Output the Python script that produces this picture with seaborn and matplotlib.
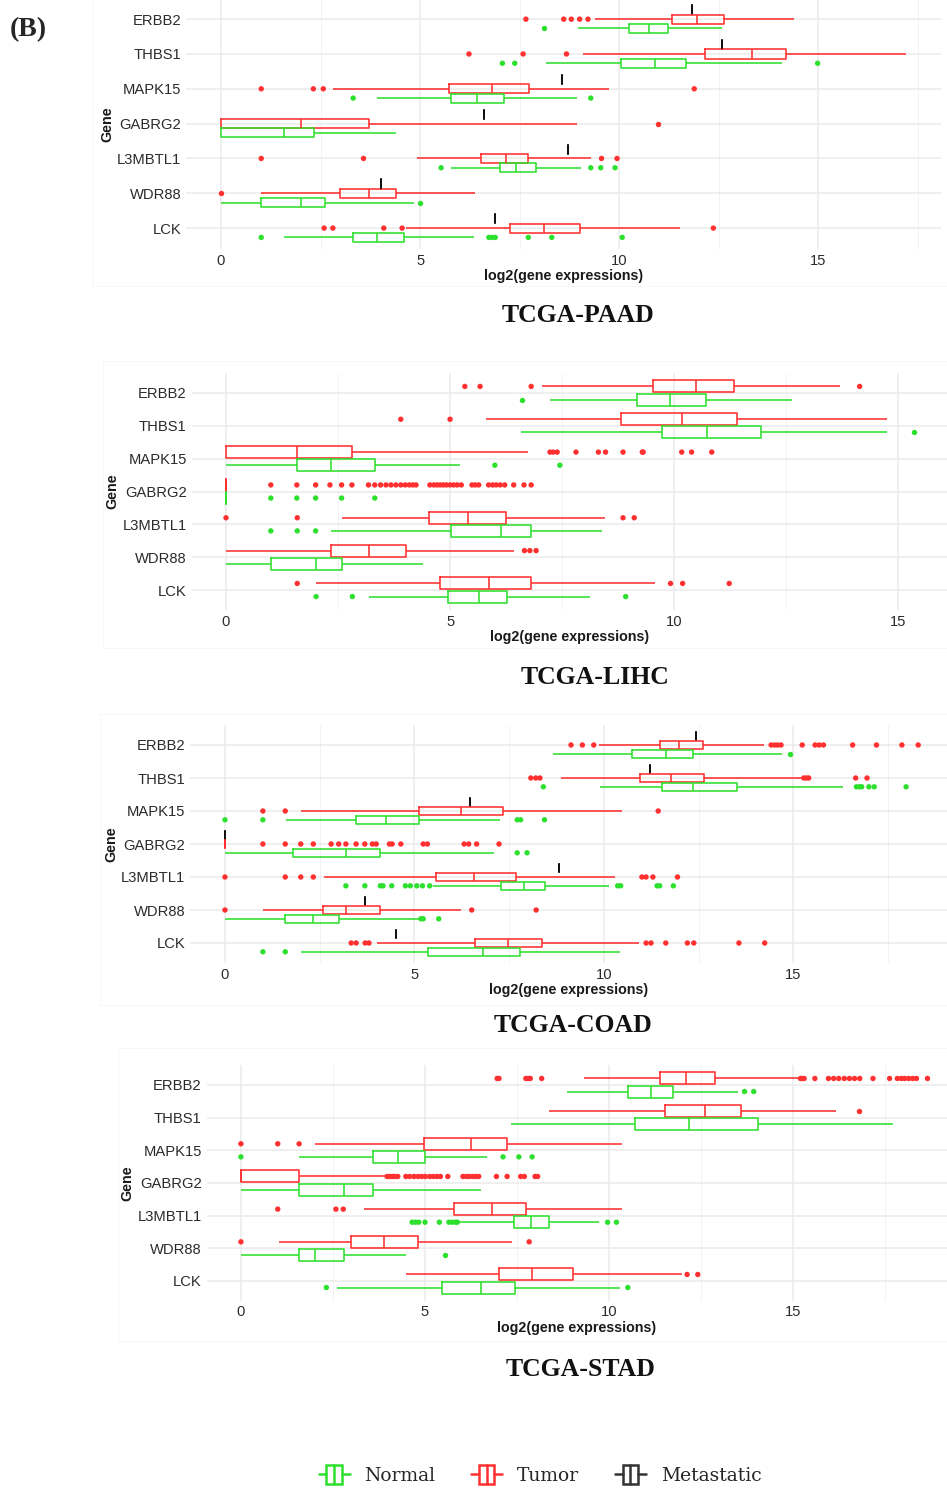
import numpy as np
import pandas as pd
import matplotlib
matplotlib.use("Agg")
import matplotlib.pyplot as plt
import seaborn as sns
from matplotlib.legend_handler import HandlerBase
from matplotlib.lines import Line2D
from matplotlib.patches import Rectangle
from matplotlib.ticker import MultipleLocator

# ---------------------------------------------------------------- data
GENES = ["ERBB2", "THBS1", "MAPK15", "GABRG2", "L3MBTL1", "WDR88", "LCK"]
GROUPS = ["Normal", "Tumor", "Metastatic"]
X_TICKS = [0, 5, 10, 15]
X_LABEL = "log2(gene expressions)"
Y_LABEL = "Gene"
PANEL_TITLES = ["TCGA-PAAD", "TCGA-LIHC", "TCGA-COAD", "TCGA-STAD"]

# per gene: [lower whisker, Q1, median, Q3, upper whisker]
PAAD_NORMAL = [[8.98, 10.26, 10.75, 11.23, 12.59], [8.17, 10.05, 10.91, 11.69, 14.09],
               [3.91, 5.79, 6.42, 7.11, 8.94], [0.0, 0.0, 1.59, 2.33, 4.39],
               [5.79, 7.00, 7.41, 7.92, 9.05], [0.0, 1.01, 2.02, 2.60, 4.85],
               [1.59, 3.32, 3.91, 4.60, 6.35]]
PAAD_TUMOR = [[9.39, 11.32, 11.95, 12.63, 14.39], [9.09, 12.15, 13.35, 14.20, 17.22],
              [2.82, 5.72, 6.81, 7.74, 9.74], [0.0, 0.0, 2.02, 3.71, 8.95],
              [4.92, 6.54, 7.17, 7.72, 9.29], [1.01, 3.00, 3.71, 4.39, 6.38],
              [4.65, 7.25, 8.12, 9.01, 11.54]]
PAAD_METASTATIC = [11.84, 12.59, 8.57, 6.61, 8.71, 4.01, 6.88]
PAAD_NORMAL_OUT = [[8.11], [7.07, 7.38, 14.99], [3.32, 9.29], [], [5.53, 9.29, 9.54, 9.90],
                   [4.99], [1.01, 6.73, 6.81, 6.89, 7.72, 8.31, 10.08]]
PAAD_TUMOR_OUT = [[7.66, 8.61, 8.80, 9.01, 9.22], [6.23, 7.59, 8.68], [1.01, 2.32, 2.57, 11.89],
                  [10.98], [1.01, 3.58, 9.56, 9.95], [0.0], [2.59, 2.81, 4.09, 4.55, 12.37]]

LIHC_NORMAL = [[7.23, 9.17, 9.90, 10.71, 12.64], [6.58, 9.72, 10.73, 11.93, 14.75],
               [0.0, 1.59, 2.34, 3.33, 5.23], [0.0, 0.0, 0.0, 0.0, 0.0],
               [2.35, 5.01, 6.14, 6.81, 8.40], [0.0, 1.01, 2.01, 2.59, 4.39],
               [3.19, 4.95, 5.64, 6.27, 8.13]]
LIHC_TUMOR = [[7.06, 9.53, 10.48, 11.33, 13.71], [5.80, 8.82, 10.18, 11.40, 14.75],
              [0.0, 0.0, 1.59, 2.82, 6.75], [0.0, 0.0, 0.0, 0.0, 0.0],
              [2.59, 4.52, 5.40, 6.24, 8.45], [0.0, 2.34, 3.18, 4.01, 6.42],
              [2.01, 4.78, 5.86, 6.81, 9.57]]
LIHC_NORMAL_OUT = [[6.61], [15.35], [6.0, 7.45], [1.0, 1.58, 2.0, 2.58, 3.32],
                   [1.0, 1.59, 2.0], [], [2.01, 2.82, 8.92]]
LIHC_TUMOR_OUT = [[5.33, 5.67, 6.81, 14.14], [3.90, 5.0],
                  [7.23, 7.30, 7.39, 7.81, 8.31, 8.47, 8.86, 9.29, 9.31, 10.17, 10.39, 10.84],
                  [1.0, 1.58, 2.0, 2.32, 2.58, 2.81, 3.18, 3.32, 3.45, 3.57, 3.68, 3.79, 3.90,
                   4.0, 4.09, 4.17, 4.24, 4.55, 4.64, 4.71, 4.78, 4.85, 4.92, 5.0, 5.08, 5.16,
                   5.25, 5.49, 5.56, 5.64, 5.86, 5.95, 6.03, 6.12, 6.22, 6.42, 6.65, 6.81],
                  [0.0, 1.59, 8.86, 9.11], [6.66, 6.78, 6.92], [1.59, 9.92, 10.19, 11.23]]

COAD_NORMAL = [[8.66, 10.73, 11.64, 12.34, 14.70], [9.90, 11.53, 12.34, 13.51, 16.31],
               [1.60, 3.46, 4.24, 5.11, 7.26], [0.0, 1.80, 3.19, 4.09, 7.09],
               [5.50, 7.27, 7.90, 8.44, 10.14], [0.0, 1.59, 2.33, 3.00, 5.11],
               [2.00, 5.36, 6.81, 7.79, 10.41]]
COAD_TUMOR = [[9.86, 11.49, 11.97, 12.61, 14.21], [8.87, 10.94, 11.76, 12.64, 15.21],
              [2.00, 5.11, 6.23, 7.33, 10.47], [0.0, 0.0, 0.0, 0.0, 0.0],
              [2.61, 5.56, 6.56, 7.69, 10.30], [1.00, 2.59, 3.19, 4.09, 6.23],
              [4.01, 6.60, 7.46, 8.37, 10.93]]
COAD_METASTATIC = [12.44, 11.21, 6.46, 0.0, 8.81, 3.69, 4.51]
COAD_NORMAL_OUT = [[14.90], [8.40, 16.66, 16.74, 16.80, 16.99, 17.13, 17.97],
                   [0.0, 1.0, 7.71, 7.80, 8.43], [7.71, 7.97],
                   [3.19, 3.69, 4.10, 4.17, 4.40, 4.76, 4.89, 5.06, 5.21, 5.40,
                    10.36, 10.44, 11.40, 11.47, 11.83],
                   [5.17, 5.23, 5.64], [1.0, 1.59]]
COAD_TUMOR_OUT = [[9.13, 9.43, 9.73, 14.41, 14.50, 14.58, 14.67, 15.23, 15.57, 15.68, 15.79,
                   16.56, 17.19, 17.86, 18.29],
                  [8.07, 8.20, 8.31, 15.27, 15.34, 15.40, 16.64, 16.94],
                  [1.0, 1.59, 11.43],
                  [1.0, 1.59, 2.0, 2.33, 2.80, 3.0, 3.19, 3.46, 3.69, 3.89, 3.99, 4.34, 4.41,
                   4.64, 5.23, 5.34, 6.31, 6.43, 6.64, 7.23],
                  [0.0, 1.59, 2.0, 2.33, 11.0, 11.11, 11.29, 11.94],
                  [0.0, 6.51, 8.21],
                  [3.33, 3.46, 3.70, 3.80, 11.11, 11.24, 11.63, 12.20, 12.37, 13.56, 14.24]]

STAD_NORMAL = [[8.86, 10.51, 11.14, 11.74, 13.51], [7.33, 10.70, 12.16, 14.04, 17.71],
               [1.59, 3.59, 4.26, 4.99, 6.68], [0.0, 1.58, 2.80, 3.59, 6.51],
               [5.93, 7.41, 7.88, 8.36, 9.72], [0.0, 1.58, 2.01, 2.81, 4.49],
               [2.61, 5.46, 6.52, 7.45, 10.30]]
STAD_TUMOR = [[9.33, 11.39, 12.09, 12.88, 15.13], [8.38, 11.51, 12.61, 13.59, 16.16],
              [2.01, 4.96, 6.26, 7.23, 10.35], [0.0, 0.0, 0.0, 1.59, 3.91],
              [3.33, 5.80, 6.83, 7.75, 10.35], [1.03, 3.00, 3.88, 4.81, 7.36],
              [4.48, 7.00, 7.91, 9.01, 11.97]]
STAD_NORMAL_OUT = [[13.68, 13.93], [], [0.0, 7.12, 7.55, 7.91], [],
                   [4.65, 4.74, 4.83, 5.0, 5.39, 5.65, 5.74, 5.83, 5.88, 9.96, 10.2],
                   [5.54], [2.32, 10.51]]
STAD_TUMOR_OUT = [[6.96, 7.01, 7.74, 7.80, 7.86, 8.17, 15.2, 15.25, 15.3, 15.59, 15.96, 16.1,
                   16.24, 16.39, 16.53, 16.67, 16.81, 17.17, 17.62, 17.83, 17.94, 18.03, 18.14,
                   18.25, 18.35, 18.65],
                  [16.8], [0.0, 1.0, 1.58],
                  [3.97, 4.04, 4.11, 4.18, 4.26, 4.48, 4.58, 4.70, 4.81, 4.91, 5.01, 5.13, 5.23,
                   5.33, 5.42, 5.62, 6.03, 6.12, 6.20, 6.29, 6.38, 6.46, 6.94, 7.23, 7.60, 7.70,
                   7.99, 8.06],
                  [1.0, 2.58, 2.78], [0.0, 7.83], [12.12, 12.41]]

# ---------------------------------------------------------------- style
PALETTE = {"Normal": "#2ee02e", "Tumor": "#ff3030", "Metastatic": "#111111"}
LEGEND_COLORS = {"Normal": "#2ee02e", "Tumor": "#ff3030", "Metastatic": "#333333"}
W, H = 947, 1488

sns.set_theme(style="white")
plt.rcParams["font.family"] = ["Liberation Sans", "DejaVu Sans"]


def box_frame(stats_by_group):
    recs = []
    for grp, per_gene in stats_by_group.items():
        for gene, vals in zip(GENES, per_gene):
            for v in np.atleast_1d(vals):
                recs.append({"gene": gene, "group": grp, "value": float(v)})
    return pd.DataFrame(recs)


def out_frame(out_by_group):
    recs = []
    for grp, per_gene in out_by_group.items():
        for gene, vals in zip(GENES, per_gene):
            for v in vals:
                recs.append({"gene": gene, "group": grp, "value": float(v)})
    return pd.DataFrame(recs)


PANELS = [
    dict(title=PANEL_TITLES[0],
         stats={"Metastatic": PAAD_METASTATIC, "Tumor": PAAD_TUMOR, "Normal": PAAD_NORMAL},
         outs={"Tumor": PAAD_TUMOR_OUT, "Normal": PAAD_NORMAL_OUT},
         hue_order=["Metastatic", "Tumor", "Normal"], gap=0.02,
         box=(186, 0, 941, 249), xlim=(-0.88, 18.09), ylim=(6.6, -0.55),
         title_xy=(578, 316), frame=(92, -5, 960, 286)),
    dict(title=PANEL_TITLES[1],
         stats={"Tumor": LIHC_TUMOR, "Normal": LIHC_NORMAL},
         outs={"Tumor": LIHC_TUMOR_OUT, "Normal": LIHC_NORMAL_OUT},
         hue_order=["Tumor", "Normal"], gap=0.08,
         box=(191.5, 373.3, 947, 609.7), xlim=(-0.77, 16.09), ylim=(6.6, -0.6),
         title_xy=(595, 678), frame=(103, 361, 960, 648)),
    dict(title=PANEL_TITLES[2],
         stats={"Metastatic": COAD_METASTATIC, "Tumor": COAD_TUMOR, "Normal": COAD_NORMAL},
         outs={"Tumor": COAD_TUMOR_OUT, "Normal": COAD_NORMAL_OUT},
         hue_order=["Metastatic", "Tumor", "Normal"], gap=0.04,
         box=(190.3, 725.2, 947, 962.8), xlim=(-0.915, 19.05), ylim=(6.6, -0.6),
         title_xy=(573, 1025), frame=(100, 714, 960, 1005)),
    dict(title=PANEL_TITLES[3],
         stats={"Tumor": STAD_TUMOR, "Normal": STAD_NORMAL},
         outs={"Tumor": STAD_TUMOR_OUT, "Normal": STAD_NORMAL_OUT},
         hue_order=["Tumor", "Normal"], gap=0.08,
         box=(206.7, 1065.4, 947, 1300.6), xlim=(-0.93, 19.18), ylim=(6.6, -0.6),
         title_xy=(581, 1370), frame=(118, 1048, 960, 1341)),
]

fig = plt.figure(figsize=(W / 100, H / 100), dpi=100)
fig.patch.set_facecolor("white")

for p in PANELS:
    fl, ft, fr, fb = p["frame"]
    fig.add_artist(Rectangle((fl / W, 1 - fb / H), (fr - fl) / W, (fb - ft) / H,
                             transform=fig.transFigure, fill=False,
                             edgecolor="#f6f6f6", linewidth=0.7, zorder=0))
    l, t, r, b = p["box"]
    ax = fig.add_axes([l / W, 1 - b / H, (r - l) / W, (b - t) / H])
    ax.patch.set_alpha(0)
    ax.set_axisbelow(True)
    bdf = box_frame(p["stats"])
    odf = out_frame(p["outs"])
    sns.boxplot(data=bdf, x="value", y="gene", hue="group", order=GENES,
                hue_order=p["hue_order"], palette=PALETTE, orient="h",
                whis=(0, 100), showfliers=False, showcaps=False, fill=False,
                width=0.8, gap=p["gap"], linewidth=1.15, legend=False, ax=ax)
    sns.stripplot(data=odf, x="value", y="gene", hue="group", order=GENES,
                  hue_order=p["hue_order"], palette=PALETTE, orient="h",
                  dodge=True, jitter=False, size=3.9, linewidth=0,
                  legend=False, ax=ax)
    ax.set_xlim(*p["xlim"])
    ax.set_ylim(*p["ylim"])
    ax.set_xticks(X_TICKS)
    ax.xaxis.set_minor_locator(MultipleLocator(2.5))
    ax.grid(True, which="major", color="#ebebeb", linewidth=1.1)
    ax.grid(True, which="minor", axis="x", color="#f3f3f3", linewidth=0.7)
    for s in ax.spines.values():
        s.set_visible(False)
    ax.tick_params(axis="both", which="both", length=0, pad=3.5,
                   labelsize=10.6, labelcolor="#2b2b2b")
    ax.set_xlabel(X_LABEL, fontsize=10.3, fontweight="bold", color="#1a1a1a", labelpad=1)
    ax.set_ylabel(Y_LABEL, fontsize=10.3, fontweight="bold", color="#1a1a1a", labelpad=2)
    tx, ty = p["title_xy"]
    fig.text(tx / W, 1 - ty / H, p["title"], ha="center", va="center", color="#111111",
             fontsize=18.5, fontweight="bold", family=["Liberation Serif", "DejaVu Serif"])

fig.text(10 / W, 1 - 30 / H, "(B)", ha="left", va="center", fontsize=20,
         fontweight="bold", family=["Liberation Serif", "DejaVu Serif"])


class BoxGlyph(HandlerBase):
    def create_artists(self, legend, orig_handle, xdescent, ydescent, width, height,
                       fontsize, trans):
        c = orig_handle.get_color()
        bw = width * 0.5
        x0 = (width - bw) / 2 - xdescent
        h = height * 1.35
        y0 = -ydescent + (height - h) / 2
        lw = 1.8
        rect = Rectangle((x0, y0), bw, h, fill=False, edgecolor=c, lw=lw, transform=trans)
        med = Line2D([x0 + bw / 2] * 2, [y0, y0 + h], color=c, lw=lw, transform=trans)
        wl = Line2D([-xdescent, x0], [y0 + h / 2] * 2, color=c, lw=lw, transform=trans)
        wr = Line2D([x0 + bw, width - xdescent], [y0 + h / 2] * 2, color=c, lw=lw,
                    transform=trans)
        return [rect, med, wl, wr]


handles = [Line2D([], [], color=LEGEND_COLORS[g]) for g in GROUPS]
fig.legend(handles, GROUPS, handler_map={Line2D: BoxGlyph()}, ncol=3, loc="center",
           bbox_to_anchor=(540 / W, 1 - 1476 / H), frameon=False,
           prop={"family": ["DejaVu Serif"], "size": 13.5},
           handlelength=1.65, handleheight=0.8, handletextpad=0.8, columnspacing=1.9)

fig.savefig("out.png", dpi=100, facecolor="white")
